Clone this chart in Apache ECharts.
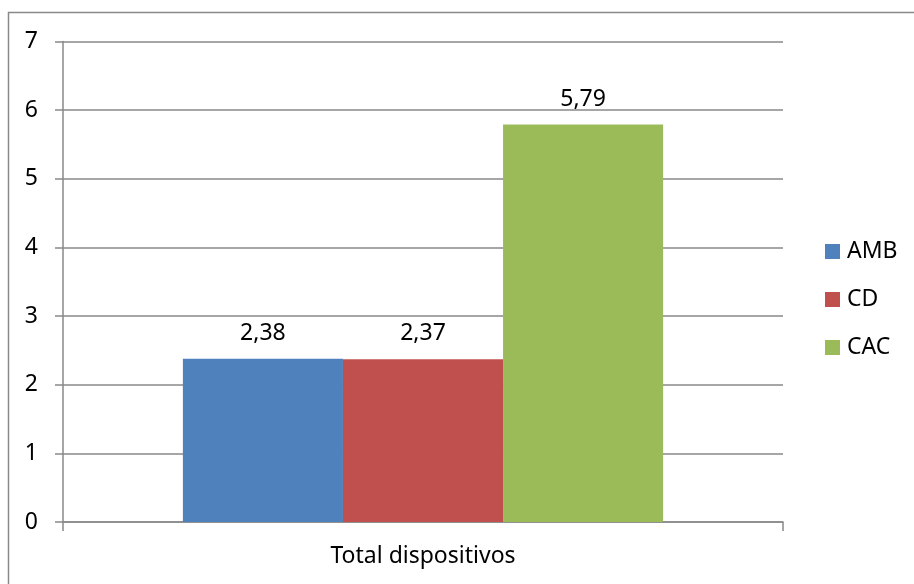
<!DOCTYPE html>
<html>
<head>
<meta charset="utf-8">
<script src="https://cdn.jsdelivr.net/npm/echarts@6/dist/echarts.min.js"></script>
<style>
  html, body { margin: 0; padding: 0; background: #fff; }
  #chart { width: 914px; height: 584px; }
</style>
</head>
<body>
<div id="chart"></div>
<script>
const categories = ['Total dispositivos']
const seriesNames = ['AMB', 'CD', 'CAC']
const amb = [2.38]
const cd = [2.37]
const cac = [5.79]
const colors = ['#4F81BD', '#C0504D', '#9BBB59']

const font = '"Noto Sans", sans-serif'
const gray = '#898989'
const fs = 23

const chart = echarts.init(document.getElementById('chart'))

const series = [amb, cd, cac].map((data, i) => {
  return {
    name: seriesNames[i],
    type: 'bar',
    data: data,
    barGap: '0%',
    barCategoryGap: '33.3%',
    itemStyle: { color: colors[i] },
    label: {
      show: true,
      position: 'top',
      distance: 14,
      color: '#000',
      fontFamily: font,
      fontSize: fs,
      formatter: p => p.value.toFixed(2).replace('.', ',')
    }
  }
})

const option = {
  animation: false,
  backgroundColor: '#fff',
  graphic: [
    {
      type: 'rect',
      shape: { x: 8.5, y: 12.5, width: 1000, height: 1000 },
      style: { fill: 'none', stroke: gray, lineWidth: 1.5 },
      silent: true
    }
  ],
  grid: {
    left: 63,
    right: 131,
    top: 41.5,
    bottom: 62
  },
  legend: {
    orient: 'vertical',
    left: 825,
    top: 240,
    padding: 0,
    itemWidth: 15,
    itemHeight: 15,
    itemGap: 25,
    icon: 'rect',
    data: seriesNames,
    textStyle: {
      color: '#000',
      fontFamily: font,
      fontSize: fs,
      padding: [0, 0, 0, 2]
    }
  },
  xAxis: {
    type: 'category',
    data: categories,
    axisLine: { lineStyle: { color: gray, width: 1.5 } },
    axisTick: { show: true, length: 9, lineStyle: { color: gray, width: 1.5 } },
    axisLabel: {
      color: '#000',
      fontFamily: font,
      fontSize: fs,
      margin: 23
    }
  },
  yAxis: {
    type: 'value',
    min: 0,
    max: 7,
    interval: 1,
    axisLine: { show: true, lineStyle: { color: gray, width: 1.5 } },
    axisTick: { show: true, length: 8, lineStyle: { color: gray, width: 1.5 } },
    splitLine: { lineStyle: { color: gray, width: 1.5 } },
    axisLabel: {
      color: '#000',
      fontFamily: font,
      fontSize: fs,
      margin: 25
    }
  },
  series
}

chart.setOption(option)
</script>
</body>
</html>
